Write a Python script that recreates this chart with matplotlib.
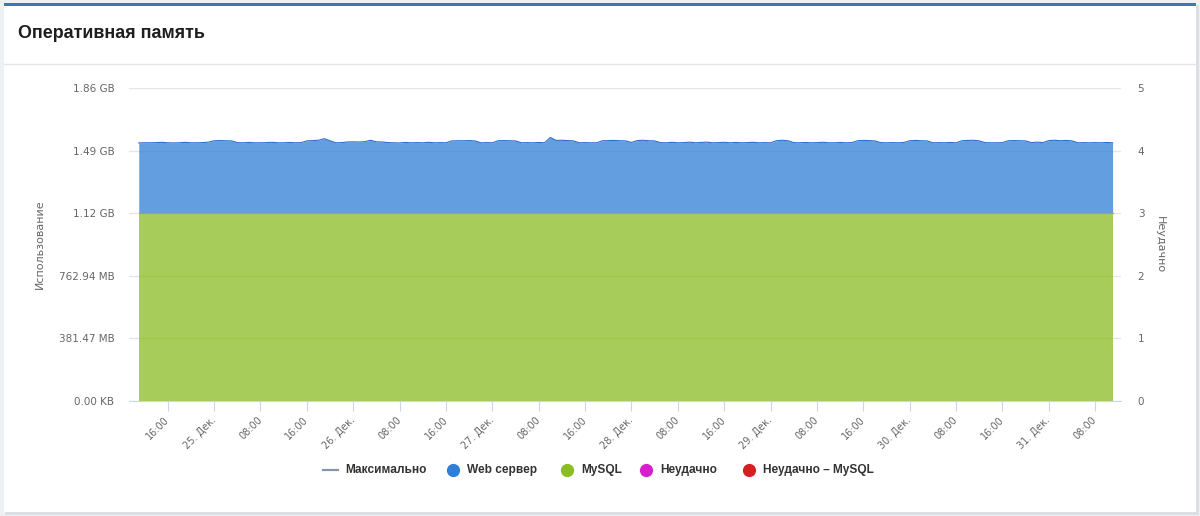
import matplotlib
matplotlib.use("Agg")
import matplotlib.pyplot as plt
import matplotlib.dates as mdates
from matplotlib.patches import Rectangle
from matplotlib.lines import Line2D
import pandas as pd

# ---------------- data ----------------
start_time = "2023-12-24 11:00"          # first sample (hourly samples)
# Web server memory (MB, decimal) stacked above MySQL
web_server_mb = [
    449, 450, 450, 451, 453, 450, 449, 450, 453, 450, 450, 451, 454,
    463, 464, 463, 462, 451,
    450, 452, 450, 450, 451, 453, 450, 450, 452, 450, 451,
    462, 464, 466, 476, 463,
    450, 451,
    455, 456, 455, 457, 466, 456, 455,
    451, 450, 449, 452, 450, 451, 450, 453, 450, 451, 450,
    462, 463, 463, 464, 462,
    450, 451, 450,
    463, 464, 463, 462,
    450, 451, 450, 452, 450,
    484, 465, 466, 464, 462,
    450, 451, 450, 450,
    463, 464, 465, 463, 462,
    452,
    464, 466, 463, 462,
    451, 450, 453, 450, 451, 454, 450, 452, 454, 450, 451, 453, 450, 452, 450, 451, 453, 450, 451, 450,
    463, 466, 463,
    451, 450, 452, 450, 451, 453, 450, 450, 452, 450, 451,
    463, 465, 464, 462,
    451, 450, 451, 450, 452,
    463, 465, 463, 462,
    450, 451, 450, 452, 450,
    463, 465, 466, 462,
    451, 450, 450, 451,
    463, 464, 463, 462,
    451, 454, 451,
    464, 466, 463, 465, 462,
    450, 451, 450, 451, 450, 452, 450,
]
mysql_mb = [1200.0] * len(web_server_mb)   # MySQL usage is flat at 1200 MB

y_left_ticks = [0, 400e6, 800e6, 1200e6, 1600e6, 2000e6]   # bytes
y_right_ticks = [0, 1, 2, 3, 4, 5]
first_tick = "2023-12-24 16:00"
n_xticks = 21
month_label = "Дек."

legend_names = ["Максимально", "Web сервер", "MySQL", "Неудачно", "Неудачно – MySQL"]
legend_colors = ["#8596ab", "#2f7ed8", "#8bbc21", "#d61fcf", "#d42020"]

title = "Оперативная память"
left_label = "Использование"
right_label = "Неудачно"

# ---------------- figure ----------------
W, H = 1200, 516
fig = plt.figure(figsize=(W / 100, H / 100), dpi=100)
fig.patch.set_facecolor("#eef0f3")

def fx(px):
    return px / W

def fy(py):
    return 1 - py / H

# card
fig.patches.append(Rectangle((fx(5), fy(515)), fx(1194), fy(5) - fy(515),
                             transform=fig.transFigure, facecolor="#dcdfe4", edgecolor="none", zorder=-3))
fig.patches.append(Rectangle((fx(4), fy(512)), fx(1192), fy(4) - fy(512),
                             transform=fig.transFigure, facecolor="white", edgecolor="none", zorder=-2))
fig.patches.append(Rectangle((fx(4), fy(5.5)), fx(1192), fy(3) - fy(5.5),
                             transform=fig.transFigure, facecolor="#3d78b2", edgecolor="none", zorder=-1))
fig.add_artist(Line2D([fx(4), fx(1196)], [fy(63.5), fy(63.5)], transform=fig.transFigure,
                      color="#e6e6e6", lw=1))

fig.text(fx(18), fy(33), title, fontsize=12.9, fontweight="bold", color="#1e1e1e",
         family=["Liberation Sans", "DejaVu Sans"], ha="left", va="center")

ax = fig.add_axes([fx(129), fy(401), fx(1121) - fx(129), fy(88) - fy(401)])
ax.set_facecolor("none")

times = pd.date_range(start_time, periods=len(web_server_mb), freq="h")
x = mdates.date2num(times.to_pydatetime())
mysql_b = [v * 1e6 for v in mysql_mb]
total_b = [(m + w) * 1e6 for m, w in zip(mysql_mb, web_server_mb)]

ax.fill_between(x, 0, mysql_b, color="#8bbc21", alpha=0.75, lw=0, zorder=2)
ax.fill_between(x, mysql_b, total_b, color="#2f7ed8", alpha=0.75, lw=0, zorder=2)
ax.plot(x, mysql_b, color="#8bbc21", lw=0.8, zorder=3)
ax.plot(x, total_b, color="#2f6fcc", lw=0.8, zorder=3)

t0 = pd.Timestamp(first_tick)
ax.set_xlim(mdates.date2num((t0 - pd.Timedelta(hours=6.68)).to_pydatetime()),
            mdates.date2num((t0 + pd.Timedelta(hours=164.45)).to_pydatetime()))
ax.set_ylim(y_left_ticks[0], y_left_ticks[-1])

xt = pd.date_range(first_tick, periods=n_xticks, freq="8h")
ax.set_xticks(mdates.date2num(xt.to_pydatetime()))
ax.set_xticklabels([f"{t.day}. {month_label}" if t.hour == 0 else t.strftime("%H:%M") for t in xt])
plt.setp(ax.get_xticklabels(), rotation=45, ha="right", va="center", rotation_mode="anchor")


def fmt_bytes(v):
    if v == 0:
        return "0.00 KB"
    if v >= 1024 ** 3:
        return f"{v / 1024 ** 3:.2f} GB"
    return f"{v / 1024 ** 2:.2f} MB"


ax.set_yticks(y_left_ticks)
ax.set_yticklabels([fmt_bytes(v) for v in y_left_ticks])
ax.grid(axis="y", color="#e6e6e6", lw=1, zorder=0)
ax.set_axisbelow(True)
for s in ["top", "right", "left"]:
    ax.spines[s].set_visible(False)
ax.spines["bottom"].set_color("#ccd6eb")
ax.spines["bottom"].set_zorder(4)
ax.tick_params(axis="x", length=7.2, width=0.8, color="#ccd6eb", labelsize=7,
               labelcolor="#666666", pad=5.5)
ax.tick_params(axis="y", length=0, labelsize=7.5, labelcolor="#666666", pad=10.5)

ax2 = ax.twinx()
ax2.set_ylim(y_right_ticks[0], y_right_ticks[-1])
ax2.set_yticks(y_right_ticks)
for s in ax2.spines.values():
    s.set_visible(False)
ax2.tick_params(axis="y", length=0, labelsize=7.5, labelcolor="#666666", pad=12)

fig.text(fx(40), fy(244.5), left_label, rotation=90, fontsize=8, color="#666666",
         ha="center", va="center")
fig.text(fx(1160), fy(244.5), right_label, rotation=270, fontsize=8, color="#666666",
         ha="center", va="center")

# legend (manually laid out)
ly = fy(470)
fig.add_artist(Line2D([fx(323), fx(338)], [ly, ly], transform=fig.transFigure,
                      color=legend_colors[0], lw=1.6))
marker_x = [None, 453, 567, 646, 749]
text_x = [345, 467, 581, 660, 763]
for name, col, mx, tx in zip(legend_names, legend_colors, marker_x, text_x):
    if mx is not None:
        fig.add_artist(Line2D([fx(mx)], [ly], transform=fig.transFigure, marker="o",
                              markersize=8.5, color=col, lw=0))
    fig.text(fx(tx), ly, name, fontsize=8.6, fontweight="bold", color="#333333",
             family=["Liberation Sans", "DejaVu Sans"], ha="left", va="center")

fig.savefig("out.png", dpi=100, facecolor=fig.get_facecolor())
